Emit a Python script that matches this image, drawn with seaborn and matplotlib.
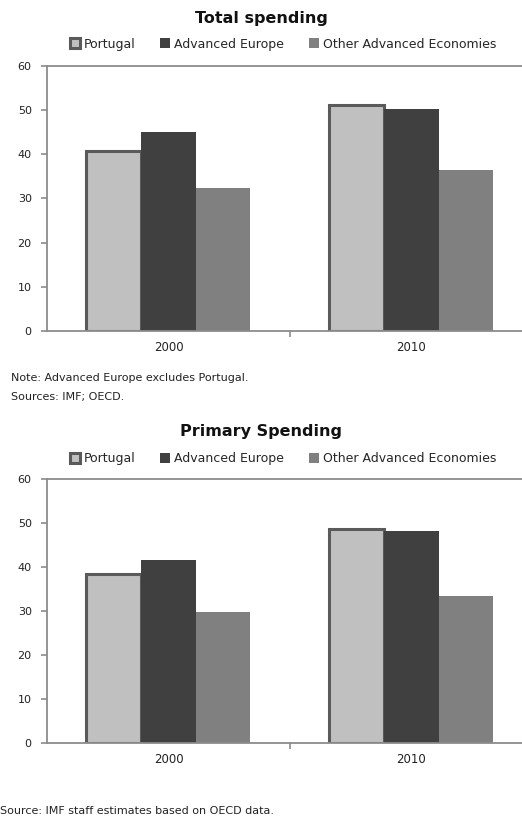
import matplotlib
matplotlib.use("Agg")
import matplotlib.pyplot as plt
import seaborn as sns
import pandas as pd

years = ["2000", "2010"]
groups = ["Portugal", "Advanced Europe", "Other Advanced Economies"]
total_spending = {
    "Portugal": [40.7, 51.1],
    "Advanced Europe": [45.0, 50.2],
    "Other Advanced Economies": [32.4, 36.4],
}
primary_spending = {
    "Portugal": [38.4, 48.6],
    "Advanced Europe": [41.6, 48.2],
    "Other Advanced Economies": [29.8, 33.4],
}
y_ticks = [0, 10, 20, 30, 40, 50, 60]
palette = {"Portugal": "#c0c0c0", "Advanced Europe": "#404040",
           "Other Advanced Economies": "#808080"}

sns.set_theme(style="white")
plt.rcParams["font.family"] = ["DejaVu Sans"]

fig = plt.figure(figsize=(5.22, 8.18), dpi=100)


def to_frame(values):
    rows = []
    for g in groups:
        for y, v in zip(years, values[g]):
            rows.append({"year": y, "group": g, "value": v})
    return pd.DataFrame(rows)


def draw(ax, values, title, legend_y, title_y):
    df = to_frame(values)
    sns.barplot(data=df, x="year", y="value", hue="group", order=years,
                hue_order=groups, palette=palette, width=0.675, gap=0,
                saturation=1, ax=ax, legend=True, edgecolor="none")
    # Portugal bars carry a dark outline
    for patch in ax.patches:
        if abs(patch.get_facecolor()[0] - 0xc0 / 255) < 0.02:
            patch.set_edgecolor("#5a5a5a")
            patch.set_linewidth(2.2)
    ax.set_ylim(0, 60)
    ax.set_yticks(y_ticks)
    ax.set_xlim(-0.5, 1.5)
    ax.set_xlabel("")
    ax.set_ylabel("")
    for s in ["left", "bottom", "top"]:
        ax.spines[s].set_color("#8c8c8c")
        ax.spines[s].set_linewidth(1.3)
    ax.spines["right"].set_visible(False)
    ax.tick_params(axis="y", which="both", left=True, length=4, width=1.2,
                   color="#8c8c8c", labelsize=8, pad=7, labelcolor="#222222")
    ax.tick_params(axis="x", length=0, labelsize=8.5, pad=7, labelcolor="#222222")
    ax.set_xticks([0, 1], years)
    ax.set_xticks([0.5], minor=True)
    ax.tick_params(axis="x", which="minor", bottom=True, length=4, width=1.2,
                   color="#8c8c8c")
    handles, labels = ax.get_legend_handles_labels()
    ax.get_legend().remove()
    fig.legend(handles, labels, loc="center", bbox_to_anchor=(0.542, legend_y),
               ncol=3, frameon=False, fontsize=9, handlelength=0.8,
               handleheight=0.8, handletextpad=0.3, columnspacing=2.0)
    fig.text(0.5, title_y, title, ha="center", va="center", fontsize=11.5,
             fontweight="bold", color="#111111")


ax1 = fig.add_axes([0.090, 0.5954, 0.931, 0.3239])
draw(ax1, total_spending, "Total spending", 0.9462, 0.977)
fig.text(0.022, 0.538, "Note: Advanced Europe excludes Portugal.", fontsize=8,
         va="center", color="#222222")
fig.text(0.022, 0.515, "Sources: IMF; OECD.", fontsize=8, va="center",
         color="#222222")

ax2 = fig.add_axes([0.090, 0.0917, 0.931, 0.3227])
draw(ax2, primary_spending, "Primary Spending", 0.4390, 0.472)
fig.text(0.0, 0.009, "Source: IMF staff estimates based on OECD data.",
         fontsize=8, va="center", color="#222222")

fig.savefig("out.png", dpi=100)
